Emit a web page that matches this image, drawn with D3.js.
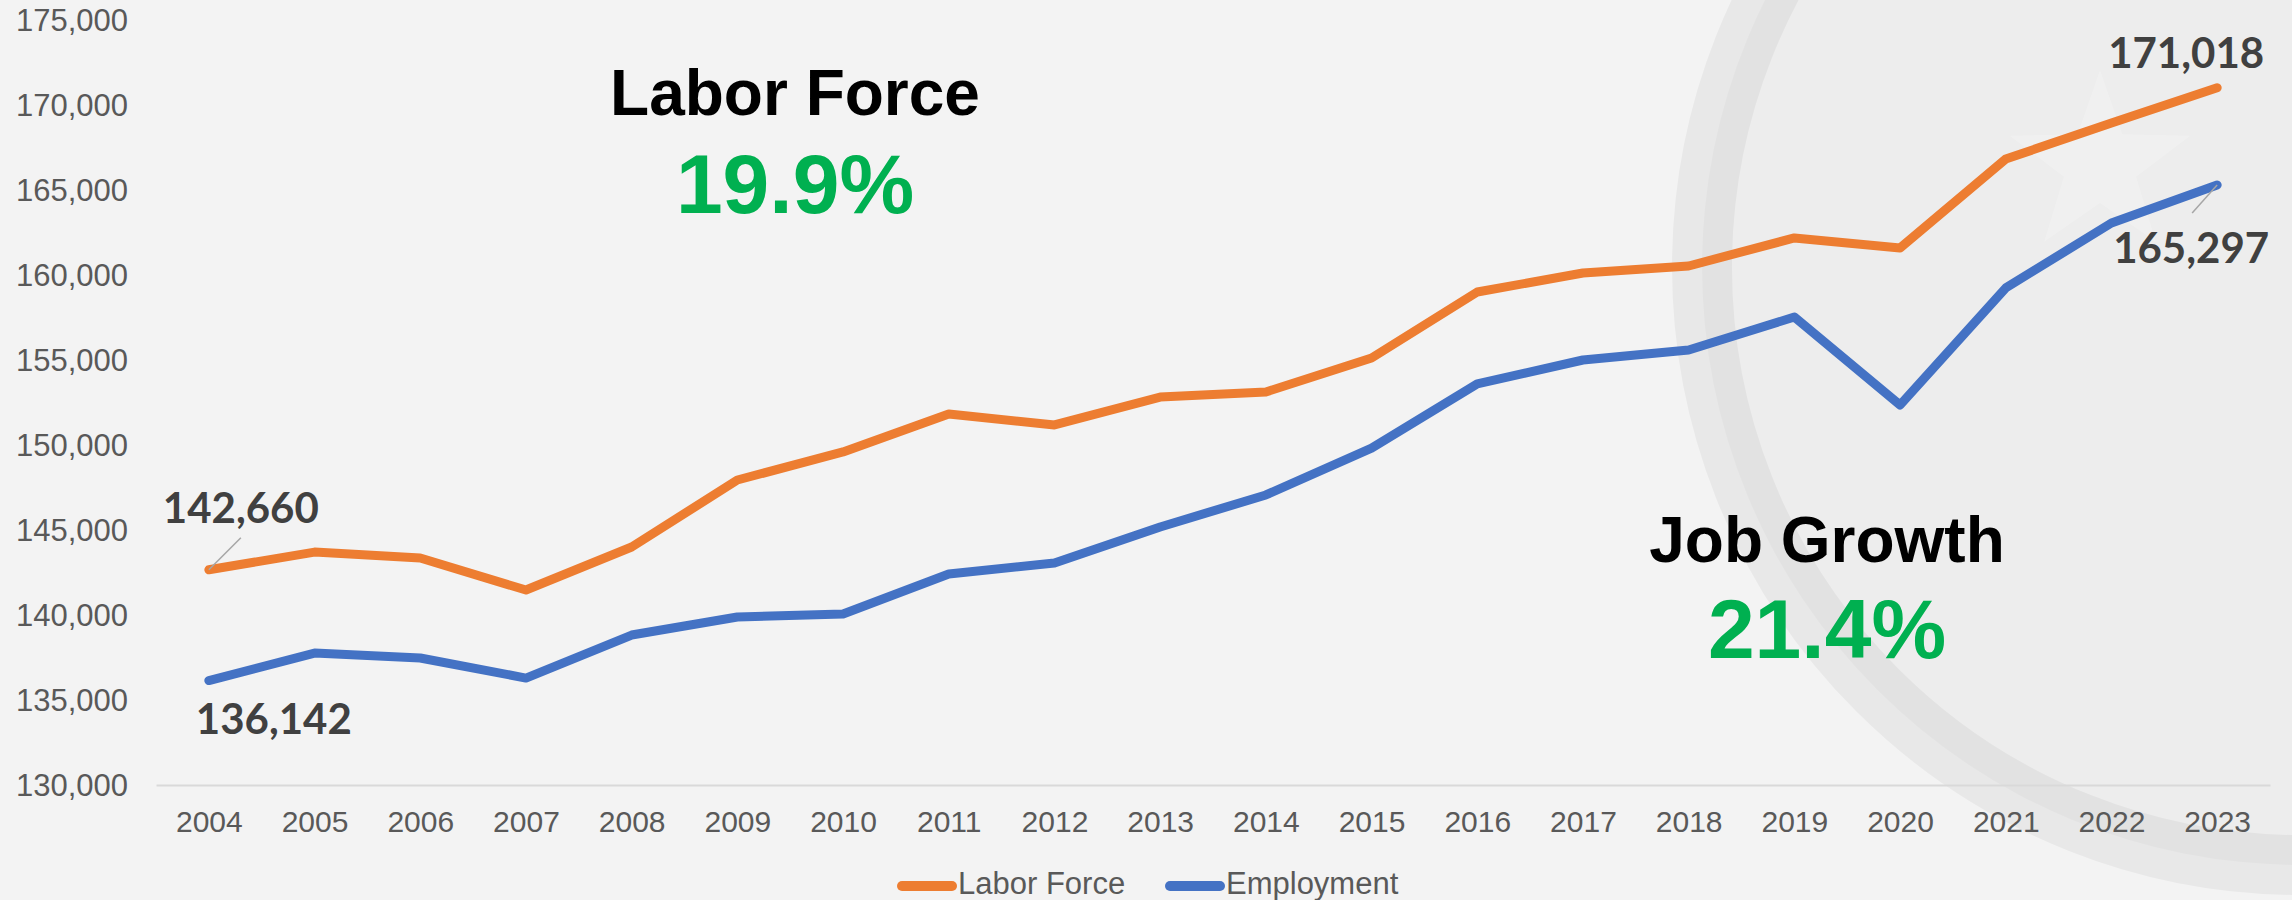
<!DOCTYPE html>
<html>
<head>
<meta charset="utf-8">
<script src="https://cdn.jsdelivr.net/npm/d3@7"></script>
<style>
  html, body { margin: 0; padding: 0; background: #f3f3f3; }
  svg { display: block; }
  .tick text { font-family: "Liberation Sans", Arial, sans-serif; fill: #595959; }
</style>
</head>
<body>
<div id="chart"></div>
<script>
// data
var years = ["2004","2005","2006","2007","2008","2009","2010","2011","2012","2013",
             "2014","2015","2016","2017","2018","2019","2020","2021","2022","2023"];
var laborForce = [142660, 143700, 143350, 141470, 144000, 147940, 149590, 151820, 151180, 152820,
                  153120, 155120, 159000, 160120, 160530, 162180, 161590, 166820, 168940, 171018];
var employment = [136142, 137760, 137470, 136290, 138820, 139880, 140060, 142410, 143060, 145180,
                  147060, 149820, 153590, 155000, 155590, 157530, 152350, 159240, 163060, 165297];
var yTicks = [130000, 135000, 140000, 145000, 150000, 155000, 160000, 165000, 170000, 175000];
var seriesNames = ["Labor Force", "Employment"];
var seriesColors = ["#ed7d31", "#4472c4"];
var growthLabels = ["19.9%", "21.4%"];
var growthTitles = ["Labor Force", "Job Growth"];

var svgWidth = 2292;
var svgHeight = 900;

var svg = d3.select("#chart")
    .append("svg")
    .attr("width", svgWidth)
    .attr("height", svgHeight);

// background + faint seal watermark
svg.append("rect")
    .attr("width", svgWidth)
    .attr("height", svgHeight)
    .attr("fill", "#f3f3f3");

var mark = svg.append("g");
mark.append("circle")
    .attr("cx", 2300).attr("cy", 267).attr("r", 598)
    .attr("fill", "#000").attr("fill-opacity", 0.025);
mark.append("circle")
    .attr("cx", 2300).attr("cy", 267).attr("r", 598)
    .attr("fill", "none")
    .attr("stroke", "#000").attr("stroke-opacity", 0.045)
    .attr("stroke-width", 60);

var starPts = d3.range(10).map(function(i) {
    var r = i % 2 === 0 ? 95 : 38;
    var a = -Math.PI / 2 + i * Math.PI / 5;
    return [2100 + r * Math.cos(a), 165 + r * Math.sin(a)];
});
mark.append("polygon")
    .attr("points", starPts.map(p => p.join(",")).join(" "))
    .attr("fill", "#fff").attr("fill-opacity", 0.2);

// scales
var xScale = d3.scalePoint()
    .domain(years)
    .range([156, 2270])
    .padding(0.5);

var yScale = d3.scaleLinear()
    .domain([130000, 175000])
    .range([785, 20]);

// y axis (labels only)
var yAxis = d3.axisLeft(yScale)
    .tickValues(yTicks)
    .tickFormat(d3.format(","))
    .tickSize(0)
    .tickPadding(29);

var yG = svg.append("g")
    .attr("transform", "translate(157,0)")
    .call(yAxis);
yG.select(".domain").remove();
yG.selectAll("text").attr("font-size", 31).attr("dy", "0.35em");

// x axis
var xAxis = d3.axisBottom(xScale)
    .tickSize(0)
    .tickSizeOuter(0)
    .tickPadding(26);

var xG = svg.append("g")
    .attr("transform", "translate(0,785)")
    .call(xAxis);
xG.select(".domain").attr("stroke", "#d9d9d9").attr("stroke-width", 2);
xG.selectAll("text").attr("font-size", 30);

// lines
var line = d3.line()
    .x((d, i) => xScale(years[i]))
    .y(d => yScale(d));

[laborForce, employment].forEach(function(values, k) {
    svg.append("path")
        .datum(values)
        .attr("fill", "none")
        .attr("stroke", seriesColors[k])
        .attr("stroke-width", 9)
        .attr("stroke-linejoin", "round")
        .attr("stroke-linecap", "round")
        .attr("d", line);
});

// end-point data labels
var first = 0, last = years.length - 1;
var labelFmt = d3.format(",");
var dataLabels = [
    {v: laborForce[first], x: xScale(years[first]) + 32, y: yScale(laborForce[first]) - 47, lead: [[0, 0], [32, -32]], yr: years[first]},
    {v: employment[first], x: xScale(years[first]) + 65, y: yScale(employment[first]) + 53, lead: null, yr: years[first]},
    {v: laborForce[last], x: xScale(years[last]) - 31, y: yScale(laborForce[last]) - 20, lead: null, yr: years[last]},
    {v: employment[last], x: xScale(years[last]) - 26, y: yScale(employment[last]) + 78, lead: [[0, 0], [-25, 28]], yr: years[last]}
];

dataLabels.forEach(function(d) {
    if (d.lead) {
        var px = xScale(d.yr), py = yScale(d.v);
        svg.append("line")
            .attr("x1", px + d.lead[0][0]).attr("y1", py + d.lead[0][1])
            .attr("x2", px + d.lead[1][0]).attr("y2", py + d.lead[1][1])
            .attr("stroke", "#a6a6a6")
            .attr("stroke-width", 1.5);
    }
    svg.append("text")
        .attr("x", d.x)
        .attr("y", d.y)
        .attr("text-anchor", "middle")
        .attr("font-family", "Lato, 'Open Sans', sans-serif")
        .attr("font-weight", 700)
        .attr("font-size", 42)
        .attr("fill", "#404040")
        .text(labelFmt(d.v));
});

// growth callouts
var callouts = [{x: 795, y1: 115, y2: 213}, {x: 1827, y1: 562, y2: 658}];
callouts.forEach(function(c, k) {
    svg.append("text")
        .attr("x", c.x).attr("y", c.y1)
        .attr("text-anchor", "middle")
        .attr("font-family", "'Liberation Sans', Arial, sans-serif")
        .attr("font-weight", 700)
        .attr("font-size", 64)
        .attr("fill", "#000")
        .text(growthTitles[k]);
    svg.append("text")
        .attr("x", c.x).attr("y", c.y2)
        .attr("text-anchor", "middle")
        .attr("font-family", "'Liberation Sans', Arial, sans-serif")
        .attr("font-weight", 700)
        .attr("font-size", 84)
        .attr("fill", "#00b050")
        .text(growthLabels[k]);
});

// legend
var legendX = [897, 1165];
var legend = svg.append("g");
seriesNames.forEach(function(name, k) {
    legend.append("line")
        .attr("x1", legendX[k] + 5).attr("x2", legendX[k] + 55)
        .attr("y1", 886).attr("y2", 886)
        .attr("stroke", seriesColors[k])
        .attr("stroke-width", 10)
        .attr("stroke-linecap", "round");
    legend.append("text")
        .attr("x", legendX[k] + 61)
        .attr("y", 894)
        .attr("font-family", "'Liberation Sans', Arial, sans-serif")
        .attr("font-size", 31)
        .attr("fill", "#595959")
        .text(name);
});
</script>
</body>
</html>
